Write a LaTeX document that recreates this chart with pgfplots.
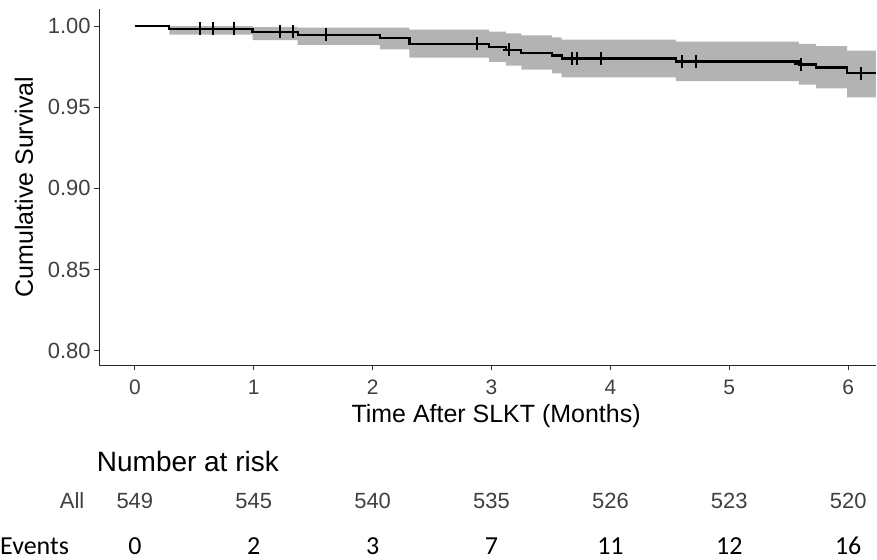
\documentclass[border=0pt]{standalone}
\usepackage{fontspec}
\setmainfont{Liberation Sans}
\newfontfamily\calibri{Carlito}
\usepackage{pgfplots}
\usepackage{pgfplotstable}
\pgfplotsset{compat=1.18}
\usepgfplotslibrary{fillbetween}

\definecolor{band}{HTML}{B3B3B3}
\definecolor{ticktext}{HTML}{404040}

% Kaplan-Meier steps: time, survival, lower / upper 95% band
\pgfplotstableread{
t     S       lo      up
0     1       1       1
0.29  0.99818 0.99463 1
0.99  0.99636 0.99134 0.99930
1.37  0.99454 0.98841 0.99900
2.06  0.99271 0.98565 0.99900
2.31  0.98907 0.98046 0.99775
2.98  0.98725 0.97796 0.99662
3.12  0.98543 0.97553 0.99543
3.25  0.98361 0.97313 0.99420
3.51  0.98179 0.97077 0.99294
3.59  0.97996 0.96843 0.99164
4.55  0.97814 0.96612 0.99032
5.585 0.97632 0.96384 0.98897
5.73  0.97450 0.96157 0.98761
5.99  0.97086 0.95600 0.98485
6.233 0.97086 0.95600 0.98485
}\kmtab

% censored observations
\pgfplotstableread{
t    S
0.55 0.99818
0.66 0.99818
0.83 0.99818
1.22 0.99636
1.33 0.99636
1.61 0.99454
2.88 0.98907
3.15 0.98543
3.68 0.97996
3.72 0.97996
3.92 0.97996
4.60 0.97814
4.72 0.97814
5.60 0.97632
6.11 0.97086
}\censtab

\tikzset{risk/.style={anchor=base, font=\fontsize{22bp}{24bp}\selectfont, text=ticktext},
         ev/.style={anchor=base, font=\calibri\fontsize{26bp}{28bp}\selectfont}}

\begin{document}
\begin{tikzpicture}
\begin{axis}[
  at={(99.3bp,194.3bp)}, anchor=south west,
  width=777.7bp, height=356.7bp, scale only axis,
  xmin=-0.30, xmax=6.233, ymin=0.791, ymax=1.0105,
  clip=false,
  axis x line*=bottom, axis y line*=left,
  axis line style={-, draw=black!85, line width=1.1bp},
  tick align=outside, major tick length=5bp,
  tick style={draw=black!80, line width=1bp},
  xtick={0,1,2,3,4,5,6},
  ytick={0.80,0.85,0.90,0.95,1.00},
  /pgf/number format/assume math mode=true,
  yticklabel style={/pgf/number format/.cd, fixed, fixed zerofill, precision=2, /tikz/.cd,
    font=\fontsize{22bp}{24bp}\selectfont, text=ticktext},
  xticklabel style={font=\fontsize{21bp}{24bp}\selectfont, text=ticktext, yshift=-6bp},
  xlabel={Time After SLKT (Months)},
  ylabel={Cumulative Survival},
  every axis x label/.style={at={(axis description cs:0.511,-0.143)}, anchor=center,
    font=\fontsize{25bp}{28bp}\selectfont},
  every axis y label/.style={at={(axis description cs:-0.0968,0.5)}, rotate=90, anchor=center,
    font=\fontsize{25bp}{28bp}\selectfont},
]
\addplot[name path=up, draw=none, const plot] table[x=t, y=up] {\kmtab};
\addplot[name path=lo, draw=none, const plot] table[x=t, y=lo] {\kmtab};
\addplot[band, draw=none] fill between[of=up and lo];
\addplot[black, line width=2.2bp, const plot] table[x=t, y=S] {\kmtab};
\addplot[black, only marks, mark=+, mark size=6.5bp, mark options={line width=2bp}]
  table[x=t, y=S] {\censtab};

% number at risk table
\node[anchor=base west, inner sep=0pt, font=\fontsize{28bp}{30bp}\selectfont] at (axis cs:-0.32,0.72572) {Number at risk};
\node[anchor=base east, font=\fontsize{22bp}{24bp}\selectfont, text=ticktext] at (axis cs:-0.395,0.70277) {All};
\node[risk] at (axis cs:0,0.70277) {549};
\node[risk] at (axis cs:1,0.70277) {545};
\node[risk] at (axis cs:2,0.70277) {540};
\node[risk] at (axis cs:3,0.70277) {535};
\node[risk] at (axis cs:4,0.70277) {526};
\node[risk] at (axis cs:5,0.70277) {523};
\node[risk] at (axis cs:6,0.70277) {520};
\node[anchor=base west, font=\calibri\fontsize{26bp}{28bp}\selectfont, inner sep=0pt] at (axis cs:-1.134,0.67446) {Events};
\node[ev] at (axis cs:0,0.67446) {0};
\node[ev] at (axis cs:1,0.67446) {2};
\node[ev] at (axis cs:2,0.67446) {3};
\node[ev] at (axis cs:3,0.67446) {7};
\node[ev] at (axis cs:4,0.67446) {11};
\node[ev] at (axis cs:5,0.67446) {12};
\node[ev] at (axis cs:6,0.67446) {16};
\end{axis}
\path (0,0) rectangle (877bp,560bp);
\end{tikzpicture}
\end{document}
